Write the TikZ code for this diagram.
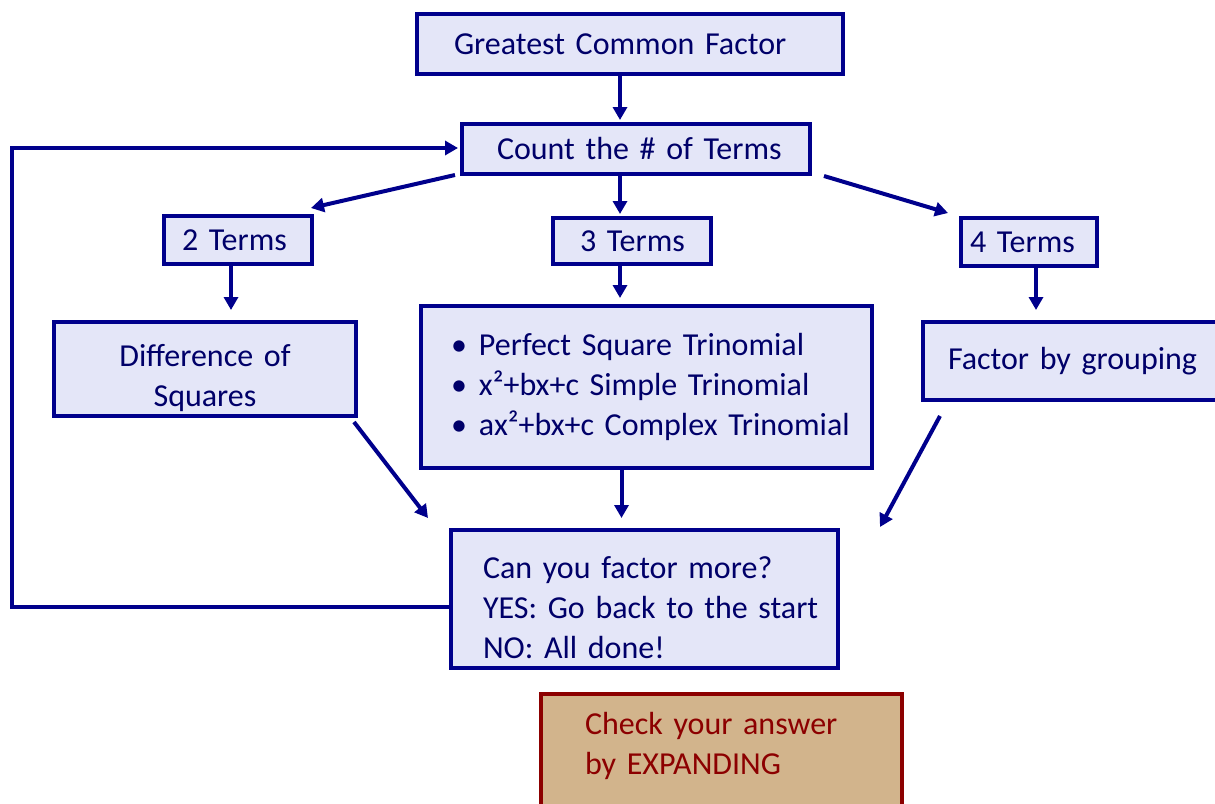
\documentclass[tikz,border=0pt]{standalone}
\usepackage{fontspec}
\setmainfont{Carlito}
\usetikzlibrary{arrows.meta,calc}
\definecolor{navyline}{RGB}{0,0,140}
\definecolor{navytext}{RGB}{0,0,105}
\definecolor{lav}{RGB}{228,230,248}
\definecolor{tanfill}{RGB}{210,180,140}
\definecolor{dred}{RGB}{140,0,0}
\hfuzz=300pt \hbadness=10000
\begin{document}
\begin{tikzpicture}[x=1pt,y=-1pt,
  bx/.style={draw=navyline, fill=lav, line width=4pt, text=navytext,
    font=\fontsize{32}{40}\selectfont, inner ysep=0pt, anchor=north west, align=left},
  arr/.style={draw=navyline, line width=4pt, -{Triangle[length=13pt,width=14pt]}},
]
\useasboundingbox (0,0) rectangle (1215,803);
\clip (0,0) rectangle (1215,803);

\node[bx, minimum width=426pt, minimum height=60pt, inner xsep=37pt, text width=352pt] (gcf) at (415,12) {\mbox{Greatest Common Factor}};
\node[bx, minimum width=348pt, minimum height=50pt, inner xsep=35pt, text width=278pt] (count) at (460,122) {\mbox{Count the \# of Terms}};
\node[bx, minimum width=148pt, minimum height=48pt, inner xsep=18pt, text width=112pt] (two) at (162,214) {\mbox{2 Terms}};
\node[bx, minimum width=158pt, minimum height=46pt, inner xsep=27pt, text width=104pt] (three) at (551,216) {\mbox{3 Terms}};
\node[bx, minimum width=136pt, minimum height=48pt, inner xsep=9pt, text width=118pt] (four) at (959,216) {\mbox{4 Terms}};
\node[bx, minimum width=302pt, minimum height=94pt, inner xsep=10pt, text width=282pt, align=center] (diff) at (52,320) {\mbox{}\\Difference of\\Squares};
\node[bx, minimum width=451pt, minimum height=162pt, inner xsep=30pt, text width=391pt] (trin) at (419,304)
  {\mbox{\makebox[28pt][l]{•}Perfect Square Trinomial}\\
   \mbox{\makebox[28pt][l]{•}x²+bx+c Simple Trinomial}\\
   \mbox{\makebox[28pt][l]{•}ax²+bx+c Complex Trinomial}};
\node[bx, minimum width=340pt, minimum height=78pt, inner xsep=25pt, text width=290pt] (fbg) at (921,320) {\mbox{Factor by grouping}};
\node[bx, minimum width=387pt, minimum height=138pt, inner xsep=32pt, text width=323pt] (can) at (449,528)
  {\mbox{}\\\mbox{Can you factor more?}\\\mbox{YES: Go back to the start}\\\mbox{NO: All done!}};
\node[bx, draw=dred, fill=tanfill, text=dred, minimum width=361pt, minimum height=160pt, inner xsep=44pt, text width=273pt] (check) at (539,692)
  {\mbox{Check your answer}\\\mbox{by EXPANDING}\\[22pt]\mbox{}};

\draw[arr] ($(gcf.south)+(-10,0)$) -- ($(gcf.south |- count.north)+(-10,-2)$);
\draw[arr] ($(three.north |- count.south)+(-12,0)$) -- ($(three.north)+(-12,-2)$);
\draw[arr] ($(count.south west)+(-5,-1)$) -- ($(two.north east)+(-3,-6)$);
\draw[arr] ($(count.south east)+(12,0)$) -- ($(four.north west)+(-11,-3)$);
\draw[arr] ($(two.south)+(-7,0)$) -- ($(two.south |- diff.north)+(-7,-10)$);
\draw[arr] ($(three.south)+(-12,0)$) -- ($(three.south |- trin.north)+(-12,-6)$);
\draw[arr] ($(four.south)+(7,0)$) -- ($(four.south |- fbg.north)+(7,-10)$);
\draw[arr] ($(diff.south east)+(-4,4)$) -- ($(can.north west)+(-21,-10)$);
\draw[arr] ($(trin.south)+(-25,0)$) -- ($(trin.south |- can.north)+(-25,-10)$);
\draw[arr] ($(fbg.south west)+(19,14)$) -- ($(can.north east)+(40,-1)$);
\coordinate (lc) at (12,148);
\draw[arr] ($(can.west)+(0,8)$) -| (lc) -- ($(lc -| count.west)+(-2,0)$);
\end{tikzpicture}
\end{document}
